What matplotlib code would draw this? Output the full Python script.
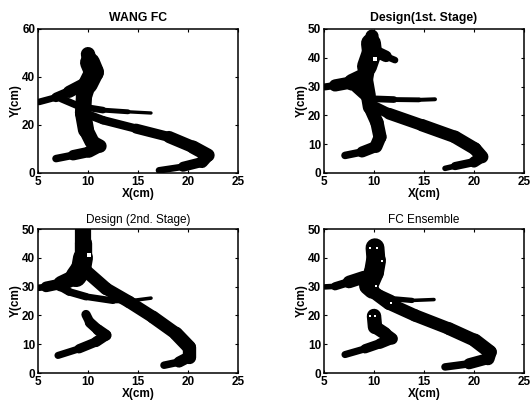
import matplotlib
matplotlib.use("Agg")
import matplotlib.pyplot as plt
from matplotlib.collections import LineCollection
import numpy as np

# ---- stroke centre lines (x, y in cm) ----
# WANG FC
wang_main_x = [10.0, 10.2, 10.6, 10.0, 9.6, 9.5, 9.8, 10.4, 11.2, 10.1, 8.5, 6.8]
wang_main_y = [49.5, 46.0, 42.0, 37.0, 32.0, 25.0, 18.0, 13.0, 11.2, 8.8, 7.4, 6.0]
wang_left_x = [9.8, 8.1, 6.8, 5.1]
wang_left_y = [37.5, 33.8, 31.5, 29.6]
wang_horiz_x = [7.3, 9.1, 11.5, 14.0, 16.3]
wang_horiz_y = [31.0, 27.8, 26.2, 25.5, 25.0]
wang_sweep_x = [9.8, 11.5, 14.8, 18.1, 20.5, 22.0, 21.4, 19.5, 17.1]
wang_sweep_y = [24.7, 22.0, 18.5, 15.0, 10.8, 7.4, 4.6, 2.6, 1.1]

# Design (1st. Stage)
d1_main_x = [9.8, 9.7, 9.8, 9.3, 9.1, 9.4, 9.6, 10.3, 10.6, 10.2, 8.8, 7.1]
d1_main_y = [47.5, 45.0, 42.0, 37.0, 33.0, 27.0, 22.9, 17.5, 12.5, 9.2, 7.3, 6.1]
d1_tip_x = [10.0, 11.2, 12.1]
d1_tip_y = [42.5, 40.5, 39.2]
d1_left_x = [9.0, 7.8, 6.1, 5.1]
d1_left_y = [33.5, 31.5, 30.4, 29.9]
d1_blob_x = [8.4, 9.2]
d1_blob_y = [30.5, 28.0]
d1_horiz_x = [9.6, 12.0, 14.5, 16.1]
d1_horiz_y = [25.8, 25.5, 25.4, 25.6]
d1_sweep_x = [9.8, 11.5, 14.8, 18.1, 20.1, 20.8, 20.0, 18.1, 17.1]
d1_sweep_y = [23.5, 20.6, 16.6, 12.5, 8.4, 5.6, 3.8, 2.4, 1.6]

# Design (2nd. Stage)
d2_top_x = [9.5, 9.5, 9.5, 9.3, 8.8]
d2_top_y = [49.8, 45.0, 40.0, 36.0, 33.5]
d2_left_x = [8.8, 7.3, 5.8, 5.1]
d2_left_y = [33.5, 31.0, 29.9, 29.6]
d2_loop_x = [7.0, 8.1, 9.8, 12.5, 14.5, 16.3]
d2_loop_y = [30.4, 28.2, 26.5, 25.1, 25.2, 26.0]
d2_sweep_x = [9.6, 11.8, 14.1, 16.5, 18.8, 20.1, 20.1, 19.1, 17.6]
d2_sweep_y = [36.0, 29.3, 24.7, 19.4, 13.7, 9.0, 5.6, 3.8, 2.7]
d2_hook_x = [9.8, 10.2, 11.0, 11.8, 10.8, 9.1, 7.0]
d2_hook_y = [20.3, 17.5, 15.0, 13.1, 10.8, 8.4, 6.1]

# FC Ensemble
en_top_x = [10.1, 10.2, 10.0, 9.5]
en_top_y = [43.5, 39.0, 35.0, 31.0]
en_left_x = [9.0, 7.5, 6.1, 5.1]
en_left_y = [33.3, 31.6, 30.1, 29.9]
en_horiz_x = [10.1, 11.8, 13.8, 16.0]
en_horiz_y = [28.5, 25.8, 25.2, 25.5]
en_sweep_x = [9.3, 9.8, 11.5, 14.1, 17.5, 20.1, 21.6, 21.4, 19.5, 17.1]
en_sweep_y = [30.0, 28.5, 24.1, 20.0, 15.4, 11.3, 7.3, 5.0, 3.2, 2.1]
en_hook_x = [10.0, 10.1, 11.1, 11.8, 10.6, 9.1, 7.1]
en_hook_y = [19.8, 16.0, 13.7, 11.9, 10.2, 8.4, 6.4]

# small white gaps inside the blobs
d1_holes_x = [10.1]
d1_holes_y = [39.7]
d2_holes_x = [10.1]
d2_holes_y = [40.9]
en_holes_x = [9.6, 10.3, 10.8, 10.2, 11.7, 9.6, 10.1]
en_holes_y = [43.4, 43.4, 38.8, 30.3, 24.4, 19.8, 19.8]

titles = ["WANG FC", "Design(1st. Stage)", "Design (2nd. Stage)", "FC Ensemble"]
x_ticks = [5, 10, 15, 20, 25]
y_ticks_wang = [0, 20, 40, 60]
y_ticks = [0, 10, 20, 30, 40, 50]

# stroke widths per vertex (read in 3x zoom pixels, scaled to points)
W = 0.32
widths = {
    "wang_main": [25, 40, 50, 38, 35, 38, 35, 32, 28, 25, 22, 12],
    "wang_left": [30, 25, 18, 12],
    "wang_horiz": [15, 18, 12, 10, 5],
    "wang_sweep": [20, 18, 20, 25, 30, 30, 25, 20, 10],
    "d1_main": [20, 40, 50, 40, 35, 35, 30, 30, 30, 28, 22, 12],
    "d1_tip": [30, 22, 8],
    "d1_left": [40, 35, 20, 12],
    "d1_blob": [40, 35],
    "d1_horiz": [18, 12, 10, 8],
    "d1_sweep": [22, 25, 28, 28, 30, 28, 22, 15, 10],
    "d2_top": [35, 38, 40, 50, 45],
    "d2_left": [40, 30, 18, 12],
    "d2_loop": [18, 18, 16, 14, 10, 6],
    "d2_sweep": [30, 28, 28, 28, 30, 32, 28, 22, 12],
    "d2_hook": [20, 22, 25, 25, 22, 20, 12],
    "en_top": [40, 45, 45, 45],
    "en_left": [35, 22, 15, 10],
    "en_horiz": [18, 14, 10, 6],
    "en_sweep": [40, 30, 28, 28, 28, 30, 32, 28, 22, 12],
    "en_hook": [35, 30, 28, 25, 22, 20, 12],
}


def draw_stroke(ax, xs, ys, w):
    pts = np.column_stack([xs, ys])
    segs = np.stack([pts[:-1], pts[1:]], axis=1)
    lw = [(w[i] + w[i + 1]) / 2 * W for i in range(len(w) - 1)]
    lc = LineCollection(segs, linewidths=lw, colors="black", capstyle="round",
                        joinstyle="round")
    ax.add_collection(lc)


plt.rcParams["font.family"] = ["Liberation Sans", "DejaVu Sans"]
fig = plt.figure(figsize=(5.3, 4.03), dpi=100)

boxes = [
    [38 / 530, 1 - 173 / 403, 200 / 530, 144 / 403],
    [324 / 530, 1 - 173 / 403, 200 / 530, 144 / 403],
    [38 / 530, 1 - 373 / 403, 200 / 530, 144 / 403],
    [324 / 530, 1 - 373 / 403, 200 / 530, 144 / 403],
]

panels = [
    [("wang_main", wang_main_x, wang_main_y), ("wang_left", wang_left_x, wang_left_y),
     ("wang_horiz", wang_horiz_x, wang_horiz_y), ("wang_sweep", wang_sweep_x, wang_sweep_y)],
    [("d1_main", d1_main_x, d1_main_y), ("d1_tip", d1_tip_x, d1_tip_y),
     ("d1_left", d1_left_x, d1_left_y), ("d1_blob", d1_blob_x, d1_blob_y),
     ("d1_horiz", d1_horiz_x, d1_horiz_y), ("d1_sweep", d1_sweep_x, d1_sweep_y)],
    [("d2_top", d2_top_x, d2_top_y), ("d2_left", d2_left_x, d2_left_y),
     ("d2_loop", d2_loop_x, d2_loop_y), ("d2_sweep", d2_sweep_x, d2_sweep_y),
     ("d2_hook", d2_hook_x, d2_hook_y)],
    [("en_top", en_top_x, en_top_y), ("en_left", en_left_x, en_left_y),
     ("en_horiz", en_horiz_x, en_horiz_y), ("en_sweep", en_sweep_x, en_sweep_y),
     ("en_hook", en_hook_x, en_hook_y)],
]
holes = [([], []), (d1_holes_x, d1_holes_y), (d2_holes_x, d2_holes_y), (en_holes_x, en_holes_y)]

for i, box in enumerate(boxes):
    ax = fig.add_axes(box)
    for name, xs, ys in panels[i]:
        draw_stroke(ax, xs, ys, widths[name])
    hx, hy = holes[i]
    if hx:
        ax.plot(hx, hy, "s", color="white", ms=1.6 if i == 3 else 2.8, mew=0)
    ax.set_xlim(5, 25)
    ax.set_xticks(x_ticks)
    if i == 0:
        ax.set_ylim(0, 60)
        ax.set_yticks(y_ticks_wang)
    else:
        ax.set_ylim(0, 50)
        ax.set_yticks(y_ticks)
    if i < 2:
        ax.set_title(titles[i], fontsize=8.8, fontweight="bold", pad=6)
    else:
        ax.set_title(titles[i], fontsize=8.5, fontweight="normal", pad=4)
    ax.set_xlabel("X(cm)", fontsize=8.5, fontweight="bold", labelpad=0.5)
    ax.set_ylabel("Y(cm)", fontsize=8.5, fontweight="bold", labelpad=0.5)
    ax.tick_params(direction="in", length=2, width=0.8, top=True, right=True,
                   labelsize=8.5, pad=2)
    for lab in ax.get_xticklabels() + ax.get_yticklabels():
        lab.set_fontweight("bold")
    for s in ax.spines.values():
        s.set_linewidth(1.1)

fig.savefig("out.png", dpi=100)
